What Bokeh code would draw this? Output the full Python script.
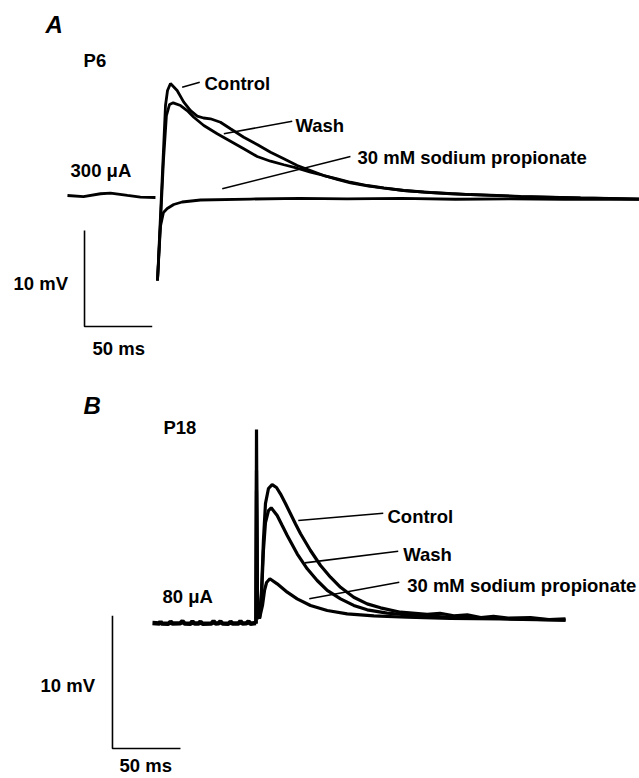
from bokeh.plotting import figure
from bokeh.layouts import column
from bokeh.models import Range1d, Label
from bokeh.embed import file_html
from bokeh.resources import INLINE

# ---------------- Panel A (P6, 300 uA) : time in ms, voltage in mV ----------------
a_pre_t = [-66.5, -54.7, -42.1, -34.7, -22.2, -12.6, -1.5]
a_pre_v = [0.21, 0.10, 0.39, 0.45, 0.21, 0.03, 0.0]

a_ctrl_t = [0.0, 2.2, 4.4, 5.9, 7.4, 9.6, 14.5, 19.4, 24.4, 29.3, 34.0, 39.1, 46.5, 53.9,
            63.7, 73.6, 83.5, 93.3, 103.2, 113.0, 122.8, 132.7, 142.5, 154.9, 167.1,
            181.9, 196.7, 216.4, 231.2, 268.1, 312.4, 356.0]
a_ctrl_v = [-8.65, -1.9, 4.9, 9.58, 11.15, 11.88, 11.15, 9.93, 9.06, 8.47, 8.28, 8.20, 7.84, 7.16,
            6.28, 5.52, 4.72, 4.03, 3.33, 2.81, 2.29, 1.95, 1.59, 1.25, 1.01,
            0.73, 0.55, 0.39, 0.31, 0.12, -0.05, -0.15]

a_wash_t = [0.0, 2.2, 4.4, 6.6, 8.9, 11.6, 17.0, 21.9, 26.8, 34.2, 44.1, 53.9, 63.7, 73.6,
            83.5, 93.3, 103.2, 113.0, 122.8, 132.7, 142.5, 154.9, 167.1, 181.9, 201.6,
            231.2, 268.1, 312.4, 356.0]
a_wash_v = [-8.65, -2.6, 3.85, 8.54, 9.69, 9.86, 9.58, 9.06, 8.36, 7.50, 6.64, 5.86, 5.07, 4.27,
            3.78, 3.41, 3.05, 2.64, 2.29, 1.88, 1.53, 1.22, 0.97, 0.73, 0.52,
            0.31, 0.10, -0.05, -0.16]

a_prop_t = [0.0, 2.2, 4.4, 7.2, 12.0, 18.2, 31.8, 68.7, 105.0, 140.0, 180.0, 220.0, 260.0, 300.0, 356.0]
a_prop_v = [-8.65, -3.0, -1.56, -1.15, -0.73, -0.47, -0.26, -0.16, -0.10, -0.15, -0.10, -0.18, -0.15, -0.20, -0.20]

# ---------------- Panel B (P18, 80 uA) ----------------
b_pre_t = [-76.5, -71.3, -70.6, -69.9, -64.7, -63.2, -61.8, -55.9, -54.4, -52.9, -48.5, -47.1,
           -45.6, -42.6, -41.2, -39.7, -33.1, -31.6, -30.1, -27.9, -26.5, -25.0, -20.6, -19.1,
           -17.6, -13.2, -11.8, -10.3, -7.4, -5.9, -4.4, -0.4]
b_pre_v = [-0.12, -0.15, 0.00, -0.15, -0.17, -0.02, -0.15, -0.13, 0.02, -0.15, -0.17, 0.00,
           -0.15, -0.15, -0.02, -0.17, -0.15, 0.02, -0.15, -0.13, 0.00, -0.15, -0.17, -0.02,
           -0.15, -0.15, 0.02, -0.15, -0.13, 0.00, -0.17, -0.12]

b_ctrl_t = [-0.4, 0.0, 0.7, 2.2, 3.7, 5.1, 6.6, 8.8, 11.5, 14.7, 17.6, 21.3, 25.0, 28.7, 32.4,
            39.7, 47.1, 54.4, 61.8, 71.5, 81.4, 91.2, 105.9, 125.5, 135.0, 145.1, 155.0,
            165.0, 174.3, 185.0, 201.5, 215.0, 227.2]
b_ctrl_v = [-0.15, 14.47, 0.45, 0.23, 2.34, 6.10, 8.89, 10.02, 10.32, 10.10, 9.62, 8.89, 8.12, 7.35, 6.61,
            5.35, 4.22, 3.34, 2.58, 1.83, 1.33, 1.03, 0.70, 0.53, 0.62, 0.43, 0.50,
            0.30, 0.38, 0.25, 0.30, 0.15, 0.20]

b_wash_t = [-0.4, 0.0, 0.7, 2.2, 3.7, 5.1, 6.6, 8.8, 10.8, 15.2, 18.9, 22.6, 29.9, 37.3, 44.6,
            52.0, 61.8, 71.5, 81.4, 96.1, 115.7, 142.6, 179.4, 227.2]
b_wash_v = [-0.15, 9.87, 0.45, 0.23, 1.96, 5.35, 7.46, 8.36, 8.57, 7.99, 7.23, 6.48, 5.10, 3.97, 3.09,
            2.34, 1.71, 1.21, 0.88, 0.63, 0.45, 0.34, 0.23, 0.11]

b_prop_t = [-0.4, 0.0, 0.7, 2.2, 4.4, 5.9, 7.4, 9.8, 15.2, 22.6, 29.9, 39.7, 52.0, 66.7, 86.3,
            110.8, 142.6, 179.4, 227.2]
b_prop_v = [-0.15, 11.38, 0.45, 0.23, 1.21, 2.34, 2.94, 3.22, 2.84, 2.21, 1.71, 1.21, 0.83, 0.58, 0.43,
            0.32, 0.23, 0.19, 0.11]

labels = ["Control", "Wash", "30 mM sodium propionate"]

FONT = "Liberation Sans"
FS = "18.5px"
W, H = 639, 389


def make_fig(x0, x1, y0, y1):
    p = figure(width=W, height=H, x_range=Range1d(x0, x1), y_range=Range1d(y0, y1),
               x_axis_type=None, y_axis_type=None, toolbar_location=None,
               output_backend="svg", min_border=0, outline_line_color=None)
    p.min_border_left = p.min_border_right = p.min_border_top = p.min_border_bottom = 0
    p.background_fill_color = "white"
    p.border_fill_color = "white"
    return p


def txt(p, x, y, s, size=FS, style="bold"):
    p.add_layout(Label(x=x, y=y, text=s, text_font=FONT, text_font_size=size,
                       text_font_style=style, text_baseline="middle", text_align="left",
                       text_color="black"))


# ---- Panel A: 1.354 px/ms, 9.6 px/mV, stimulus at 157 px, baseline at 197 px ----
pa = make_fig(-157 / 1.354, (W - 157) / 1.354, -(H - 197) / 9.6, 197 / 9.6)
pa.line(a_pre_t, a_pre_v, line_width=2.8, color="black")
pa.line(a_prop_t, a_prop_v, line_width=2.8, color="black")
pa.line(a_wash_t, a_wash_v, line_width=2.8, color="black")
pa.line(a_ctrl_t, a_ctrl_v, line_width=2.8, color="black")
# leaders
pa.line([18.2, 31.2], [11.49, 12.01], line_width=1.6, color="black")
pa.line([49.0, 99.5], [6.64, 7.95], line_width=1.6, color="black")
pa.line([47.8, 142.5], [0.91, 4.27], line_width=1.6, color="black")
# scale bar 10 mV / 50 ms
pa.line([-53.9, -53.9, -53.9 + 50], [-13.44 + 10, -13.44, -13.44], line_width=1.6, color="black")
txt(pa, -82.7, 18.0, "A", size="24px", style="bold italic")
txt(pa, -54.6, 14.27, "P6")
txt(pa, 34.7, 11.9, labels[0])
txt(pa, 101.9, 7.5, labels[1])
txt(pa, 147.7, 4.17, labels[2])
txt(pa, -64.2, 2.81, "300 μA")
txt(pa, -106.3, -8.96, "10 mV")
txt(pa, -48.0, -15.73, "50 ms")

# ---- Panel B: 1.36 px/ms, 13.27 px/mV, stimulus at 256 px, baseline at 232 px ----
pb = make_fig(-256 / 1.36, (W - 256) / 1.36, -(H - 232) / 13.27, 232 / 13.27)
pb.line(b_pre_t, b_pre_v, line_width=4.5, color="black")
pb.line(b_prop_t, b_prop_v, line_width=3.2, color="black")
pb.line(b_wash_t, b_wash_v, line_width=3.2, color="black")
pb.line(b_ctrl_t, b_ctrl_v, line_width=3.2, color="black")
pb.line([30.7, 93.2], [7.61, 8.16], line_width=1.6, color="black")
pb.line([35.5, 104.2], [4.42, 5.30], line_width=1.6, color="black")
pb.line([38.8, 105.0], [1.71, 2.96], line_width=1.6, color="black")
pb.line([-105.9, -105.9, -105.9 + 50], [-9.57 + 10, -9.57, -9.57], line_width=1.6, color="black")
txt(pb, -127.2, 16.28, "B", size="24px", style="bold italic")
txt(pb, -68.4, 14.62, "P18")
txt(pb, 96.3, 7.91, labels[0])
txt(pb, 107.9, 5.07, labels[1])
txt(pb, 110.8, 2.71, labels[2])
txt(pb, -69.1, 1.88, "80 μA")
txt(pb, -158.8, -4.85, "10 mV")
txt(pb, -100.7, -10.85, "50 ms")

layout = column(pa, pb, spacing=0)
open("out.html", "w").write(file_html(layout, INLINE))
